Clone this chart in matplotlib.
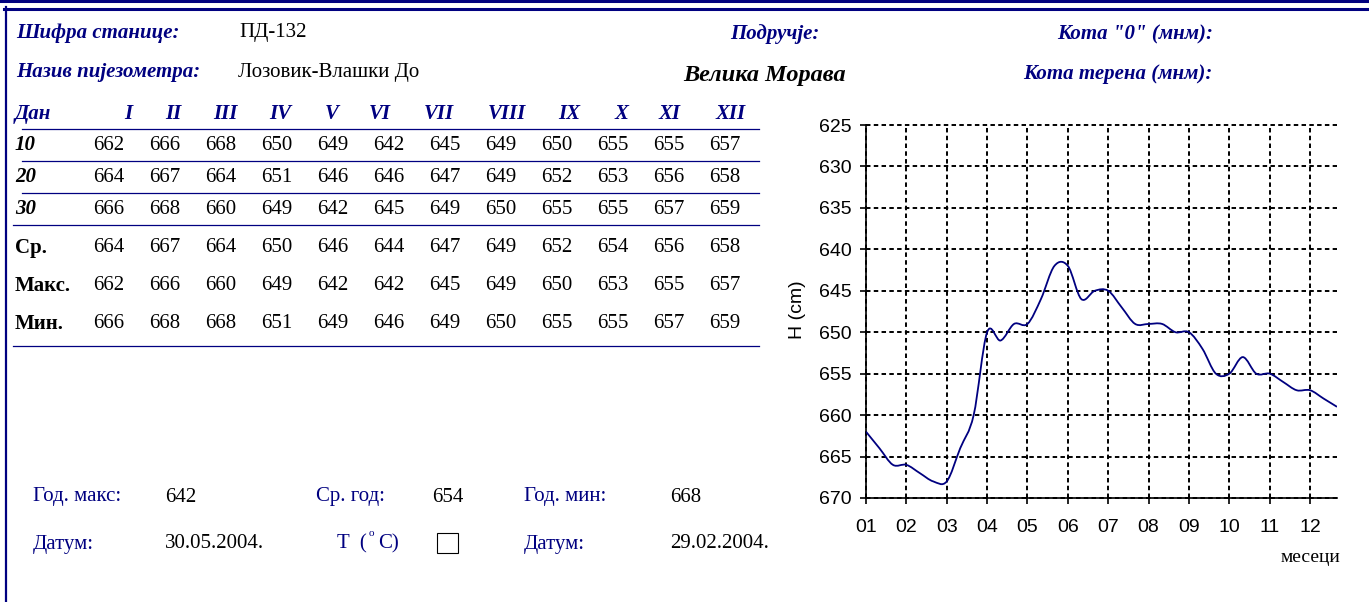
import numpy as np
import matplotlib
matplotlib.use("Agg")
import matplotlib.pyplot as plt
from matplotlib.path import Path
from matplotlib.patches import PathPatch, Rectangle

# ---- data ----
months = ["I", "II", "III", "IV", "V", "VI", "VII", "VIII", "IX", "X", "XI", "XII"]
day10 = [662, 666, 668, 650, 649, 642, 645, 649, 650, 655, 655, 657]
day20 = [664, 667, 664, 651, 646, 646, 647, 649, 652, 653, 656, 658]
day30 = [666, 668, 660, 649, 642, 645, 649, 650, 655, 655, 657, 659]
mean_row = [664, 667, 664, 650, 646, 644, 647, 649, 652, 654, 656, 658]
max_row = [662, 666, 660, 649, 642, 642, 645, 649, 650, 653, 655, 657]
min_row = [666, 668, 668, 651, 649, 646, 649, 650, 655, 655, 657, 659]
month_ticks = ["01", "02", "03", "04", "05", "06", "07", "08", "09", "10", "11", "12"]

NAVY = "#000080"
SERIF = "Liberation Serif"
SANS = "Liberation Sans"

fig = plt.figure(figsize=(13.69, 6.02), dpi=100)

# overlay in pixel coordinates for the form part
ov = fig.add_axes([0, 0, 1, 1])
ov.set_xlim(0, 1369)
ov.set_ylim(602, 0)
ov.axis("off")

# page border
ov.plot([0, 1369], [1, 1], color=NAVY, lw=2.2)
ov.plot([4, 1369], [8.5, 8.5], color=NAVY, lw=2.2)
ov.plot([5.5, 5.5], [7, 602], color=NAVY, lw=1.6)

def t(x, y, s, size=15, color="black", weight="normal", style="normal", ha="left", family=SERIF, **kw):
    ov.text(x, y, s, fontsize=size, color=color, fontweight=weight, fontstyle=style,
            ha=ha, va="center", family=family, **kw)

# header
t(16, 33, "Шифра станице:", color=NAVY, weight="bold", style="italic")
t(239, 33, "ПД-132")
t(16, 72, "Назив пијезометра:", color=NAVY, weight="bold", style="italic")
t(238, 72, "Лозовик-Влашки До")
t(820, 34, "Подручје:", color=NAVY, weight="bold", style="italic", ha="right")
t(1213, 34, "Кота \"0\" (мнм):", color=NAVY, weight="bold", style="italic", ha="right")
t(765, 75, "Велика Морава", size=17.5, weight="bold", style="italic", ha="center")
t(1213, 74, "Кота терена (мнм):", color=NAVY, weight="bold", style="italic", ha="right")

# table
col_x = [109 + 56 * i for i in range(12)]
head_x = [128, 173, 225, 280, 332, 380, 439, 507, 569, 621, 670, 731]
t(15, 114, "Дан", color=NAVY, weight="bold", style="italic")
for x, m in zip(head_x, months):
    t(x, 114, m, color=NAVY, weight="bold", style="italic", ha="center")

rows = [("10", day10, 145, "italic"), ("20", day20, 177, "italic"), ("30", day30, 209, "italic"),
        ("Ср.", mean_row, 248, "normal"), ("Макс.", max_row, 286, "normal"), ("Мин.", min_row, 324, "normal")]
for label, vals, y, st in rows:
    t(15, y, label, weight="bold", style=st)
    for x, v in zip(col_x, vals):
        t(x, y, str(v), ha="center")

for y, x0 in [(129, 22), (161, 22), (193, 22), (225, 13), (346, 13)]:
    ov.plot([x0, 759], [y, y], color=NAVY, lw=0.9)

# bottom summary
t(33, 497, "Год. макс:", color=NAVY)
t(165, 497, "642")
t(316, 497, "Ср. год:", color=NAVY)
t(432, 497, "654")
t(524, 497, "Год. мин:", color=NAVY)
t(670, 497, "668")
t(33, 544, "Датум:", color=NAVY)
t(165, 544, "30.05.2004.")
t(337, 544, "T  (", color=NAVY)
t(369, 533, "o", size=8, color=NAVY)
t(378, 544, "C)", color=NAVY)
t(524, 544, "Датум:", color=NAVY)
t(670, 544, "29.02.2004.")
ov.add_patch(Rectangle((437, 533), 21, 20, fill=False, ec="black", lw=0.8))

t(797, 310, "H (cm)", size=14, family=SANS, ha="center", rotation=90)
t(1340, 558, "месеци", size=14, ha="right")

# ---- chart ----
ax = fig.add_axes([866 / 1369, 1 - 498 / 602, (1337 - 866) / 1369, (498 - 125) / 602])
level = np.array(day10 + day20 + day30).reshape(3, 12).T.ravel()  # chronological
xi = np.arange(len(level), dtype=float)
pts = np.column_stack([xi, level.astype(float)])

# smoothed line like the spreadsheet: Catmull-Rom as cubic Bezier
verts = [pts[0]]
codes = [Path.MOVETO]
n = len(pts)
for i in range(n - 1):
    p0 = pts[i - 1] if i > 0 else pts[i]
    p1 = pts[i]
    p2 = pts[i + 1]
    p3 = pts[i + 2] if i + 2 < n else pts[i + 1]
    verts += [p1 + (p2 - p0) / 6, p2 - (p3 - p1) / 6, p2]
    codes += [Path.CURVE4] * 3
ax.add_patch(PathPatch(Path(verts, codes), fill=False, ec=NAVY, lw=1.3, zorder=3))

ax.set_xlim(0, n - 1)
ax.set_ylim(670, 625)
ax.set_xticks(np.arange(0, n, 3))
ax.set_xticklabels(month_ticks)
ax.set_yticks(np.arange(625, 671, 5))
for s in ["top", "right"]:
    ax.spines[s].set_visible(False)
for s in ["left", "bottom"]:
    ax.spines[s].set_linewidth(1.2)
ax.tick_params(length=4, width=1.2, labelsize=14, direction="out")
ax.tick_params(axis="x", pad=11)
ax.tick_params(axis="y", pad=6)
for lab in ax.get_xticklabels() + ax.get_yticklabels():
    lab.set_family(SANS)
ax.grid(True, color="black", lw=1.4, linestyle=(0, (2.3, 1.7)))
for gl in ax.get_xgridlines() + ax.get_ygridlines():
    gl.set_clip_on(False)
ax.set_axisbelow(True)
ax.patch.set_alpha(0)

fig.savefig("out.png", dpi=100)
